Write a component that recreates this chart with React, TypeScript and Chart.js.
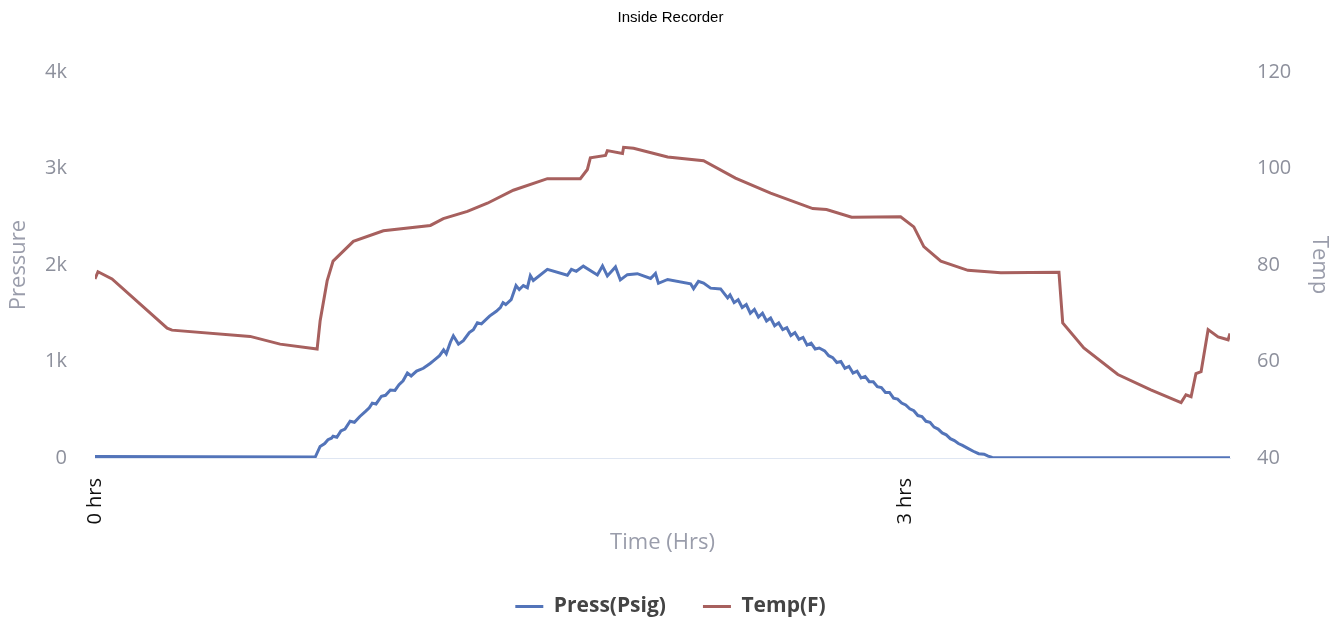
import React, { useEffect, useRef } from 'react';
import { Chart, registerables } from 'chart.js';

Chart.register(...registerables);

// Time in hours
const pressTime = [
  0.0, 0.4, 0.815, 0.833, 0.85, 0.862, 0.875, 0.881, 0.895, 0.91, 0.925, 0.944, 0.96, 0.98, 1.0,
  1.015, 1.026, 1.04, 1.06, 1.075, 1.093, 1.11, 1.125, 1.14, 1.156, 1.17, 1.19, 1.215, 1.24, 1.252,
  1.275, 1.29, 1.3, 1.315, 1.326, 1.345, 1.363, 1.385, 1.4, 1.415, 1.43, 1.46, 1.485, 1.5, 1.51,
  1.52, 1.54, 1.558, 1.57, 1.585, 1.6, 1.611, 1.622, 1.674, 1.748, 1.763, 1.781, 1.807, 1.859, 1.878,
  1.896, 1.926, 1.944, 1.97, 2.007, 2.056, 2.074, 2.085, 2.119, 2.204, 2.215, 2.233, 2.252, 2.278, 2.315,
  2.341, 2.35, 2.365, 2.38, 2.395, 2.41, 2.425, 2.44, 2.455, 2.47, 2.485, 2.5, 2.515, 2.53, 2.545,
  2.56, 2.575, 2.59, 2.605, 2.62, 2.635, 2.65, 2.665, 2.68, 2.7, 2.715, 2.73, 2.745, 2.76, 2.775,
  2.79, 2.805, 2.82, 2.835, 2.85, 2.865, 2.88, 2.895, 2.91, 2.925, 2.94, 2.955, 2.97, 2.985, 3.0,
  3.015, 3.03, 3.045, 3.06, 3.075, 3.09, 3.105, 3.12, 3.135, 3.15, 3.165, 3.18, 3.195, 3.21, 3.23,
  3.25, 3.27, 3.29, 3.305, 3.32, 3.352, 3.8, 4.2,
];
// Pressure in psig
const pressValues = [
  15, 12, 10, 120, 150, 190, 205, 226, 215, 280, 300, 381, 370, 430, 480,
  520, 569, 560, 640, 650, 704, 700, 760, 800, 881, 850, 900, 930, 980, 1007,
  1060, 1120, 1080, 1200, 1266, 1180, 1215, 1300, 1330, 1402, 1390, 1470, 1520, 1559, 1610,
  1590, 1640, 1786, 1745, 1787, 1765, 1890, 1840, 1955, 1894, 1955, 1935, 1988, 1897, 1990,
  1887, 1980, 1845, 1900, 1910, 1860, 1912, 1810, 1850, 1805, 1755, 1830, 1812, 1760, 1752,
  1660, 1690, 1610, 1640, 1560, 1590, 1500, 1540, 1460, 1500, 1420, 1450, 1370, 1400, 1330,
  1350, 1270, 1300, 1230, 1250, 1170, 1190, 1130, 1140, 1110, 1060, 1040, 990, 1000, 930,
  950, 880, 900, 830, 845, 790, 790, 740, 730, 680, 680, 620, 610, 570, 550,
  510, 490, 440, 430, 380, 370, 320, 300, 260, 240, 200, 180, 150, 130, 100,
  70, 45, 40, 20, 5, 2, 3, 2,
];

const tempTime = [
  0.0, 0.011, 0.063, 0.267, 0.285, 0.574, 0.685, 0.822, 0.833, 0.859, 0.881, 0.956, 1.067, 1.241, 1.289,
  1.378, 1.452, 1.548, 1.674, 1.796, 1.822, 1.833, 1.889, 1.896, 1.952, 1.956, 1.993, 2.119, 2.252, 2.37,
  2.5, 2.656, 2.707, 2.8, 2.981, 3.03, 3.067, 3.13, 3.23, 3.352, 3.567, 3.581, 3.659, 3.785, 3.907,
  4.019, 4.037, 4.056, 4.074, 4.093, 4.119, 4.156, 4.193, 4.2,
];
// Temperature in °F
const tempValues = [
  77.1, 78.6, 77.1, 66.9, 66.5, 65.2, 63.6, 62.6, 68.4, 76.7, 80.8, 84.9, 87.1, 88.2, 89.6,
  91.1, 92.8, 95.5, 97.9, 97.9, 99.8, 102.2, 102.7, 103.7, 103.1, 104.4, 104.2, 102.4, 101.6, 98.0,
  94.9, 91.7, 91.5, 89.9, 90.0, 87.9, 83.8, 80.8, 78.9, 78.4, 78.5, 68.0, 62.8, 57.3, 54.1,
  51.5, 53.1, 52.7, 57.5, 57.9, 66.6, 65.1, 64.5, 65.8,
];

const xTickHours = [0, 3];
const pressRange = [0, 4000];
const pressStep = 1000;
const tempRange = [40, 120];
const tempStep = 20;

const FONT = "'Open Sans', 'Noto Sans', sans-serif";

export default function App() {
  const ref = useRef<HTMLCanvasElement>(null);

  useEffect(() => {
    document.body.style.margin = '0';
    const canvas = ref.current;
    if (!canvas) return;
    const chart = new Chart(canvas, {
      type: 'line',
      data: {
        datasets: [
          {
            label: 'Press(Psig)',
            data: pressTime.map((t, i) => ({ x: t, y: pressValues[i] })),
            borderColor: '#5374b9',
            backgroundColor: '#5374b9',
            borderWidth: 3,
            pointRadius: 0,
            tension: 0,
            yAxisID: 'yP',
          },
          {
            label: 'Temp(F)',
            data: tempTime.map((t, i) => ({ x: t, y: tempValues[i] })),
            borderColor: '#a7605e',
            backgroundColor: '#a7605e',
            borderWidth: 3,
            pointRadius: 0,
            tension: 0,
            yAxisID: 'yT',
          },
        ],
      },
      options: {
        responsive: false,
        animation: false,
        layout: { padding: { top: 0, left: 0, right: 0, bottom: -7 } },
        plugins: {
          title: {
            display: true,
            text: 'Inside Recorder',
            color: '#000',
            font: { family: "'Liberation Sans', Arial, sans-serif", size: 15, weight: 'normal' },
            padding: { top: 9, bottom: 45 },
          },
          legend: {
            position: 'bottom',
            labels: {
              usePointStyle: true,
              pointStyle: 'line',
              pointStyleWidth: 28,
              padding: 37,
              color: '#444',
              font: { family: FONT, size: 21, weight: 'bold' },
            },
          },
          tooltip: { enabled: false },
        },
        scales: {
          x: {
            type: 'linear',
            min: 0,
            max: 4.2,
            afterBuildTicks: (s: any) => {
              s.ticks = xTickHours.map((v) => ({ value: v }));
            },
            afterFit: (s: any) => {
              s.height = 101;
            },
            ticks: {
              minRotation: 90,
              maxRotation: 90,
              padding: 20,
              color: '#111',
              font: { family: FONT, size: 20 },
              callback: (v: any) => v + ' hrs',
            },
            grid: { display: false, drawTicks: false },
            border: { display: true, color: '#dfe6f2', width: 1 },
            title: {
              display: true,
              text: 'Time (Hrs)',
              color: '#9a9dab',
              font: { family: FONT, size: 22 },
              padding: { top: 0, bottom: 3 },
            },
          },
          yP: {
            type: 'linear',
            position: 'left',
            min: pressRange[0],
            max: pressRange[1],
            afterFit: (s: any) => {
              s.width = 95;
            },
            ticks: {
              stepSize: pressStep,
              padding: 28,
              color: '#8d909c',
              font: { family: FONT, size: 20 },
              callback: (v: any) => (v === 0 ? '0' : v / 1000 + 'k'),
            },
            grid: { display: false, drawTicks: false },
            border: { display: false },
            title: {
              display: true,
              text: 'Pressure',
              color: '#9a9dab',
              font: { family: FONT, size: 22 },
              padding: { top: 6, bottom: 0 },
            },
          },
          yT: {
            type: 'linear',
            position: 'right',
            min: tempRange[0],
            max: tempRange[1],
            afterFit: (s: any) => {
              s.width = 111;
            },
            ticks: {
              stepSize: tempStep,
              padding: 27,
              color: '#8d909c',
              font: { family: FONT, size: 20 },
            },
            grid: { display: false, drawTicks: false },
            border: { display: false },
            title: {
              display: true,
              text: 'Temp',
              color: '#9a9dab',
              font: { family: FONT, size: 22 },
              padding: { top: 9, bottom: 0 },
            },
          },
        },
      },
    });
    return () => chart.destroy();
  }, []);

  return (
    <div style={{ width: 1341, height: 620 }}>
      <canvas ref={ref} width={1341} height={620} style={{ display: 'block' }} />
    </div>
  );
}
